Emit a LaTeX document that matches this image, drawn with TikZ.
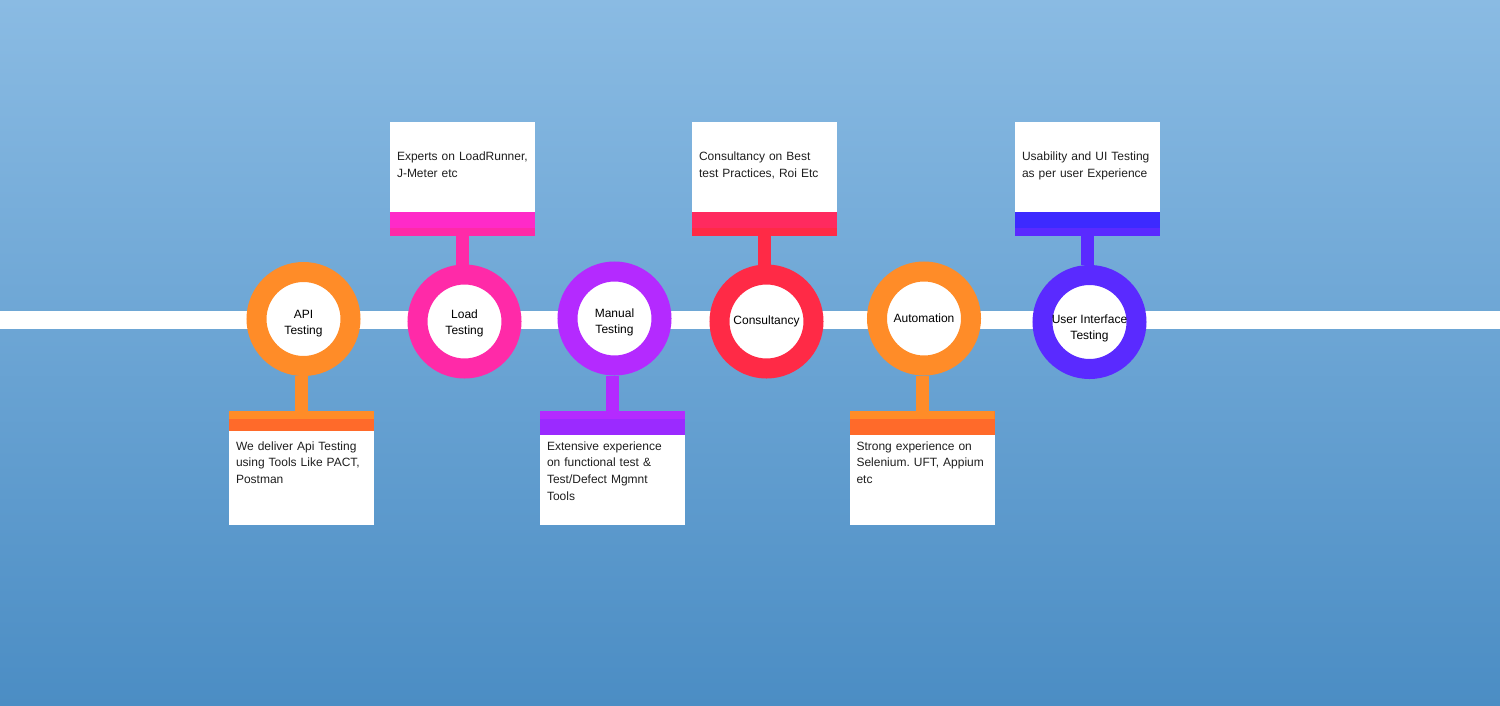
\documentclass[tikz,border=0pt]{standalone}
\usepackage{fontspec}
\setmainfont{Liberation Sans}
\frenchspacing
\usetikzlibrary{positioning}

\definecolor{bgtop}{HTML}{8ABBE3}
\definecolor{bgbot}{HTML}{4B8DC4}
\definecolor{apiorange}{HTML}{FF8C28}
\definecolor{orangedark}{HTML}{FF6A2A}
\definecolor{loadpink}{HTML}{FF2AA8}
\definecolor{loadmagenta}{HTML}{FF2AC8}
\definecolor{manualpurple}{HTML}{B42AFF}
\definecolor{manualdark}{HTML}{9B2AFF}
\definecolor{consultred}{HTML}{FF2A46}
\definecolor{consultrose}{HTML}{FF2A5F}
\definecolor{uiblue}{HTML}{5A2AFF}
\definecolor{uideep}{HTML}{3D2AFF}

\begin{document}
\begin{tikzpicture}[x=1pt,y=-1pt,font=\fontsize{12}{16}\selectfont]
  \tikzstyle{ring}=[circle,fill=white,line width=20pt,minimum size=94pt,inner sep=0pt,outer sep=10pt,align=center]
  \tikzstyle{tworing}=[ring,text height=32.7pt]
  \tikzstyle{card}=[rectangle,fill=white,text width=131pt,align=left,inner xsep=7pt,inner ysep=0pt,
    text height=39pt,text depth=75pt,xshift=-2pt,text=black!88,font=\fontsize{12}{16.7}\selectfont]
  \tikzstyle{bar}=[rectangle,minimum width=145pt,inner sep=0pt,outer sep=0pt]
  \tikzstyle{stem}=[line width=13pt]
  \tikzset{topstripe/.style={path picture={\fill[#1] (path picture bounding box.north west) rectangle ([yshift=-8pt]path picture bounding box.north east);}},
    botstripe/.style={path picture={\fill[#1] ([yshift=8pt]path picture bounding box.south west) rectangle (path picture bounding box.south east);}}}

  % background and the white band
  \shade[top color=bgtop,bottom color=bgbot] (0,0) rectangle (1500,706);
  \fill[white] (0,311) rectangle (1500,329);

  % the six stations
  \node [tworing,draw=apiorange] (api) at (303.5,319) {API\\Testing};
  \node [tworing,draw=loadpink,text height=27.8pt] (load) at (464.5,321.5) {Load\\Testing};
  \node [tworing,draw=manualpurple] (manual) at (614.5,318.5) {Manual\\Testing};
  \node [ring,draw=consultred] (consult) at (766.5,321.5) {Consultancy};
  \node [ring,draw=apiorange] (auto) at (924,318.5) {Automation};
  \node [tworing,draw=uiblue,text height=38pt] (ui) at (1089.5,322) {User Interface\\Testing};

  % cards below
  \node [card,below=35pt of api] (apicard) {We deliver Api Testing\\using Tools Like PACT,\\Postman};
  \node [card,below=35.5pt of manual] (manualcard) {Extensive experience\\on functional test \&\\Test/Defect Mgmnt\\Tools};
  \node [card,below=35.5pt of auto] (autocard) {Strong experience on\\Selenium. UFT, Appium\\etc};

  % cards above
  \node [card,above=28.5pt of load] (loadcard) {Experts on LoadRunner,\\J-Meter etc};
  \node [card,above=28.5pt of consult] (consultcard) {Consultancy on Best\\test Practices, Roi Etc};
  \node [card,above=29pt of ui] (uicard) {Usability and UI Testing\\as per user Experience};

  % coloured bars
  \node [bar,minimum height=20pt,fill=orangedark,topstripe=apiorange,anchor=north] (apibar) at (apicard.north) {};
  \node [bar,minimum height=24pt,fill=manualdark,topstripe=manualpurple,anchor=north] (manualbar) at (manualcard.north) {};
  \node [bar,minimum height=24pt,fill=orangedark,topstripe=apiorange,anchor=north] (autobar) at (autocard.north) {};
  \node [bar,minimum height=24pt,fill=loadmagenta,botstripe=loadpink,anchor=south] (loadbar) at (loadcard.south) {};
  \node [bar,minimum height=24pt,fill=consultrose,botstripe=consultred,anchor=south] (consultbar) at (consultcard.south) {};
  \node [bar,minimum height=24pt,fill=uideep,botstripe=uiblue,anchor=south] (uibar) at (uicard.south) {};

  % stems
  \draw [stem,apiorange] (apibar.north) -- (apibar.north |- api.south);
  \draw [stem,manualpurple] (manualbar.north) -- (manualbar.north |- manual.south);
  \draw [stem,apiorange] (autobar.north) -- (autobar.north |- auto.south);
  \draw [stem,loadpink] (loadbar.south) -- (loadbar.south |- load.north);
  \draw [stem,consultred] (consultbar.south) -- (consultbar.south |- consult.north);
  \draw [stem,uiblue] (uibar.south) -- (uibar.south |- ui.north);
\end{tikzpicture}
\end{document}
